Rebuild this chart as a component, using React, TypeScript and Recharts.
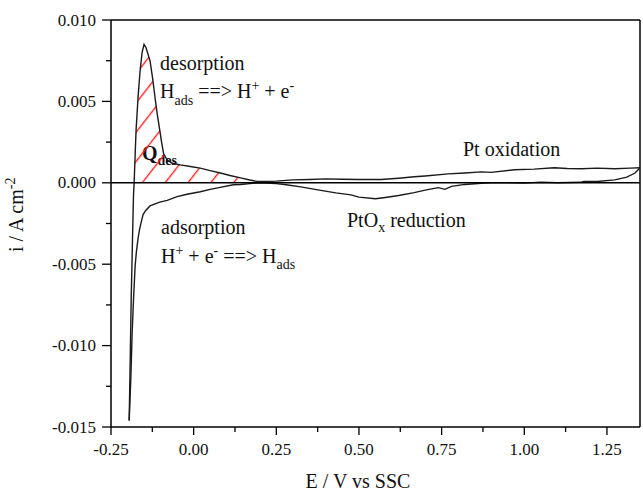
import React from 'react'
import {
  ComposedChart, Line, Area, XAxis, YAxis, ReferenceLine, Customized,
} from 'recharts'

// cyclic voltammogram of Pt, E in V vs SSC, i in A cm-2
// anodic sweep (lower vertex -> upper vertex)
const anodicSweep: [number, number][] = [
  [-0.195, -0.0146], [-0.192, -0.0110], [-0.189, -0.0072], [-0.185, -0.0035],
  [-0.182, -0.0008], [-0.180, 0.0], [-0.177, 0.0017], [-0.174, 0.0033],
  [-0.168, 0.0053], [-0.162, 0.0069], [-0.156, 0.0080], [-0.150, 0.0085],
  [-0.144, 0.0083], [-0.138, 0.0079], [-0.132, 0.0075], [-0.124, 0.0064],
  [-0.116, 0.0051], [-0.110, 0.0042], [-0.103, 0.0033], [-0.097, 0.0025],
  [-0.091, 0.0018], [-0.080, 0.0014], [-0.065, 0.0012], [-0.040, 0.0011],
  [-0.010, 0.0010], [0.020, 0.0009], [0.050, 0.00075], [0.081, 0.0006],
  [0.110, 0.00045], [0.142, 0.0003], [0.170, 0.00017], [0.192, 0.00008],
  [0.220, 0.00008], [0.250, 0.0001], [0.300, 0.00018], [0.350, 0.0002],
  [0.400, 0.00024], [0.450, 0.00022], [0.500, 0.0002], [0.567, 0.0002],
  [0.620, 0.00028], [0.667, 0.00037], [0.700, 0.00042], [0.770, 0.00055],
  [0.820, 0.0006], [0.870, 0.00067], [0.900, 0.00064], [0.970, 0.0008],
  [1.030, 0.00084], [1.090, 0.00092], [1.130, 0.00088], [1.174, 0.00086],
  [1.220, 0.0009], [1.274, 0.00086], [1.320, 0.0009], [1.350, 0.00092],
]

// cathodic sweep (upper vertex -> lower vertex)
const cathodicSweep: [number, number][] = [
  [1.350, 0.00092], [1.335, 0.0006], [1.310, 0.00035], [1.274, 0.00018],
  [1.220, 0.00008], [1.180, 0.00008], [1.170, 0.00003], [1.100, 0.0],
  [1.050, 0.00003], [1.000, -0.00002], [0.950, 0.0], [0.900, 0.0],
  [0.870, -0.00003], [0.820, -0.0001], [0.780, -0.00022], [0.760, -0.0004],
  [0.740, -0.0003], [0.700, -0.00045], [0.667, -0.0006], [0.620, -0.00078],
  [0.580, -0.0009], [0.550, -0.00098], [0.500, -0.00088], [0.476, -0.00074],
  [0.430, -0.00062], [0.380, -0.00045], [0.324, -0.00025], [0.280, -0.00012],
  [0.250, -0.00005], [0.200, 0.0], [0.170, -0.00005], [0.142, -0.0001],
  [0.120, -0.00012], [0.080, -0.00028], [0.050, -0.0004], [0.020, -0.00055],
  [-0.020, -0.0007], [-0.050, -0.00085], [-0.080, -0.00108], [-0.105, -0.0012],
  [-0.132, -0.00142], [-0.145, -0.0017], [-0.153, -0.00195], [-0.159, -0.00245],
  [-0.164, -0.0029], [-0.168, -0.0034], [-0.173, -0.0042], [-0.177, -0.0051],
  [-0.182, -0.0072], [-0.186, -0.0092], [-0.190, -0.0120], [-0.195, -0.0146],
]

const xMajorTicks = [-0.25, 0, 0.25, 0.5, 0.75, 1.0, 1.25]
const xMinorTicks = [-0.125, 0.125, 0.375, 0.625, 0.875, 1.125]
const yMajorTicks = [-0.015, -0.01, -0.005, 0, 0.005, 0.01]
const yMinorTicks = [-0.0125, -0.0075, -0.0025, 0.0025, 0.0075]

const anodicData = anodicSweep.map(([E, i]) => ({ E, i }))
const cathodicData = cathodicSweep.map(([E, i]) => ({ E, i }))
// Q_des: hydrogen desorption charge region (anodic branch above zero)
const hatchData = anodicData.filter((d) => d.E >= -0.18 && d.E <= 0.192)

const FONT = '"Liberation Serif", "Times New Roman", serif'
const INK = '#111'

const XTick = (props: any) => {
  const { x, y, payload } = props
  const major = xMajorTicks.includes(payload.value)
  return (
    <g>
      <line x1={x} x2={x} y1={y} y2={y + (major ? 8 : 5)} stroke="#000" strokeWidth={1.3} />
      {major && (
        <text x={x} y={y + 28} textAnchor="middle" fontSize={17} fontFamily={FONT} fill={INK}>
          {payload.value.toFixed(2)}
        </text>
      )}
    </g>
  )
}

const YTick = (props: any) => {
  const { x, y, payload } = props
  const major = yMajorTicks.includes(payload.value)
  return (
    <g>
      <line x1={x - (major ? 9 : 5)} x2={x} y1={y} y2={y} stroke="#000" strokeWidth={1.3} />
      {major && (
        <text x={x - 15} y={y + 5.5} textAnchor="end" fontSize={17} fontFamily={FONT} fill={INK}>
          {payload.value.toFixed(3)}
        </text>
      )}
    </g>
  )
}

const Annotations = () => (
  <g fontFamily={FONT} fill={INK} fontSize={20}>
    <text x={160} y={70}>desorption</text>
    <text x={160} y={98}>
      H<tspan fontSize={14} dy={7}>ads</tspan>
      <tspan dy={-7}> ==&gt; H</tspan>
      <tspan fontSize={14} dy={-8}>+</tspan>
      <tspan dy={8}> + e</tspan>
      <tspan fontSize={14} dy={-8}>-</tspan>
    </text>
    <text x={142} y={160} fontWeight="bold">
      Q<tspan fontSize={14} dy={5}>des</tspan>
    </text>
    <text x={463} y={156}>Pt oxidation</text>
    <text x={347} y={227}>
      PtO<tspan fontSize={14} dy={5}>x</tspan>
      <tspan dy={-5}> reduction</tspan>
    </text>
    <text x={161} y={234}>adsorption</text>
    <text x={161} y={263}>
      H<tspan fontSize={14} dy={-8}>+</tspan>
      <tspan dy={8}> + e</tspan>
      <tspan fontSize={14} dy={-8}>-</tspan>
      <tspan dy={8}> ==&gt; H</tspan>
      <tspan fontSize={14} dy={6}>ads</tspan>
    </text>
    <text x={358} y={488} textAnchor="middle">E / V vs SSC</text>
    <text transform="translate(23,252) rotate(-90)">
      i / A cm<tspan fontSize={14} dy={-8}>-2</tspan>
    </text>
  </g>
)

export default function App() {
  return (
    <div style={{ position: 'absolute', left: 0, top: 0, background: '#fff' }}>
      <ComposedChart width={643} height={493} margin={{ top: 20, right: 3, left: 0, bottom: 0 }}>
        <defs>
          <pattern id="hatch" patternUnits="userSpaceOnUse" width={18} height={18}
            patternTransform="rotate(38)">
            <line x1={8.6} y1={0} x2={8.6} y2={18} stroke="#ff2020" strokeWidth={1.4} />
          </pattern>
        </defs>
        <XAxis
          type="number" dataKey="E" domain={[-0.25, 1.35]}
          ticks={[...xMajorTicks, ...xMinorTicks].sort((a, b) => a - b)}
          interval={0} tickSize={0} tickMargin={0} tickLine={false}
          tick={<XTick />} height={66}
          axisLine={{ stroke: '#000', strokeWidth: 1.5 }}
        />
        <YAxis
          type="number" domain={[-0.015, 0.01]}
          ticks={[...yMajorTicks, ...yMinorTicks].sort((a, b) => a - b)}
          interval={0} tickSize={0} tickMargin={0} tickLine={false}
          tick={<YTick />} width={111}
          axisLine={{ stroke: '#000', strokeWidth: 1.5 }}
        />
        <ReferenceLine y={0.01} stroke="#000" strokeWidth={1.5} />
        <ReferenceLine x={1.35} stroke="#000" strokeWidth={1.5} />
        <Area data={hatchData} dataKey="i" type="linear" stroke="none"
          fill="url(#hatch)" fillOpacity={1} isAnimationActive={false} />
        <Line data={anodicData} dataKey="i" type="linear" stroke="#1a1a1a"
          strokeWidth={1.4} dot={false} isAnimationActive={false} />
        <Line data={cathodicData} dataKey="i" type="linear" stroke="#1a1a1a"
          strokeWidth={1.4} dot={false} isAnimationActive={false} />
        <ReferenceLine y={0} stroke="#000" strokeWidth={1.4} />
        <Customized component={Annotations} />
      </ComposedChart>
    </div>
  )
}
